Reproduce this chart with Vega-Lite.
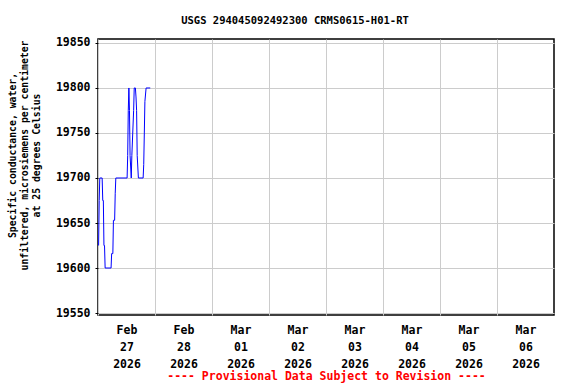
{
  "$schema": "https://vega.github.io/schema/vega-lite/v6.json",
  "width": 456,
  "height": 276,
  "autosize": "none",
  "padding": {"left": 98, "top": 39, "right": 22, "bottom": 69},
  "background": "white",
  "config": {
    "font": "DejaVu Sans Mono",
    "view": {"stroke": "black", "strokeWidth": 1.5},
    "axis": {"labelFont": "DejaVu Sans Mono", "titleFont": "DejaVu Sans Mono", "labelFontWeight": "bold", "titleFontWeight": "bold", "labelColor": "black", "gridColor": "#cccccc", "gridWidth": 1, "domain": false}
  },
  "title": {"text": "USGS 294045092492300 CRMS0615-H01-RT", "font": "DejaVu Sans Mono", "fontSize": 10.5, "fontWeight": "bold", "color": "black", "anchor": "middle", "dx": -31, "offset": 10},
  "data": {"values": [
    {"t": "2026-02-27T00:15:00", "v": 19625},
    {"t": "2026-02-27T00:30:00", "v": 19675},
    {"t": "2026-02-27T00:45:00", "v": 19700},
    {"t": "2026-02-27T01:45:00", "v": 19700},
    {"t": "2026-02-27T02:00:00", "v": 19675},
    {"t": "2026-02-27T02:15:00", "v": 19675},
    {"t": "2026-02-27T02:30:00", "v": 19625},
    {"t": "2026-02-27T02:45:00", "v": 19625},
    {"t": "2026-02-27T03:00:00", "v": 19600},
    {"t": "2026-02-27T05:30:00", "v": 19600},
    {"t": "2026-02-27T05:45:00", "v": 19616},
    {"t": "2026-02-27T06:15:00", "v": 19616},
    {"t": "2026-02-27T06:30:00", "v": 19653},
    {"t": "2026-02-27T07:00:00", "v": 19653},
    {"t": "2026-02-27T07:15:00", "v": 19683},
    {"t": "2026-02-27T07:30:00", "v": 19700},
    {"t": "2026-02-27T12:15:00", "v": 19700},
    {"t": "2026-02-27T12:30:00", "v": 19725},
    {"t": "2026-02-27T12:45:00", "v": 19775},
    {"t": "2026-02-27T13:00:00", "v": 19800},
    {"t": "2026-02-27T13:15:00", "v": 19775},
    {"t": "2026-02-27T13:30:00", "v": 19725},
    {"t": "2026-02-27T14:00:00", "v": 19700},
    {"t": "2026-02-27T14:15:00", "v": 19725},
    {"t": "2026-02-27T15:00:00", "v": 19775},
    {"t": "2026-02-27T15:15:00", "v": 19800},
    {"t": "2026-02-27T15:45:00", "v": 19800},
    {"t": "2026-02-27T16:00:00", "v": 19790},
    {"t": "2026-02-27T16:15:00", "v": 19775},
    {"t": "2026-02-27T16:30:00", "v": 19725},
    {"t": "2026-02-27T17:00:00", "v": 19700},
    {"t": "2026-02-27T19:00:00", "v": 19700},
    {"t": "2026-02-27T19:15:00", "v": 19715},
    {"t": "2026-02-27T19:30:00", "v": 19750},
    {"t": "2026-02-27T19:45:00", "v": 19785},
    {"t": "2026-02-27T20:15:00", "v": 19800},
    {"t": "2026-02-27T22:00:00", "v": 19800}
  ]},
  "mark": {"type": "line", "color": "#0000ff", "strokeWidth": 1, "interpolate": "linear"},
  "encoding": {
    "x": {
      "field": "t", "type": "temporal",
      "scale": {"domain": [{"year": 2026, "month": 2, "date": 27}, {"year": 2026, "month": 3, "date": 7}], "nice": false},
      "axis": {
        "values": [
          {"year": 2026, "month": 2, "date": 27},
          {"year": 2026, "month": 2, "date": 28},
          {"year": 2026, "month": 3, "date": 1},
          {"year": 2026, "month": 3, "date": 2},
          {"year": 2026, "month": 3, "date": 3},
          {"year": 2026, "month": 3, "date": 4},
          {"year": 2026, "month": 3, "date": 5},
          {"year": 2026, "month": 3, "date": 6}
        ],
        "labelExpr": "[timeFormat(datum.value, '%b'), timeFormat(datum.value, '%d'), timeFormat(datum.value, '%Y')]",
        "labelOffset": 28.5,
        "labelFontSize": 11.5,
        "labelLineHeight": 17,
        "labelPadding": 9,
        "labelOverlap": false,
        "labelFlush": false,
        "labelBound": false,
        "ticks": false,
        "title": "---- Provisional Data Subject to Revision ----",
        "titleColor": "red",
        "titleFontSize": 11.5,
        "titlePadding": 1
      }
    },
    "y": {
      "field": "v", "type": "quantitative",
      "scale": {"domain": [19547.8, 19854.4], "nice": false, "zero": false},
      "axis": {
        "values": [19550, 19600, 19650, 19700, 19750, 19800, 19850],
        "format": "d",
        "labelFontSize": 11.5,
        "labelPadding": 5,
        "tickSize": 3,
        "tickColor": "black",
        "title": ["Specific conductance, water,", "unfiltered, microsiemens per centimeter", "at 25 degrees Celsius"],
        "titleFontSize": 9.8,
        "titleLineHeight": 12,
        "titleColor": "black",
        "titleY": 116,
        "titlePadding": 14
      }
    }
  }
}
